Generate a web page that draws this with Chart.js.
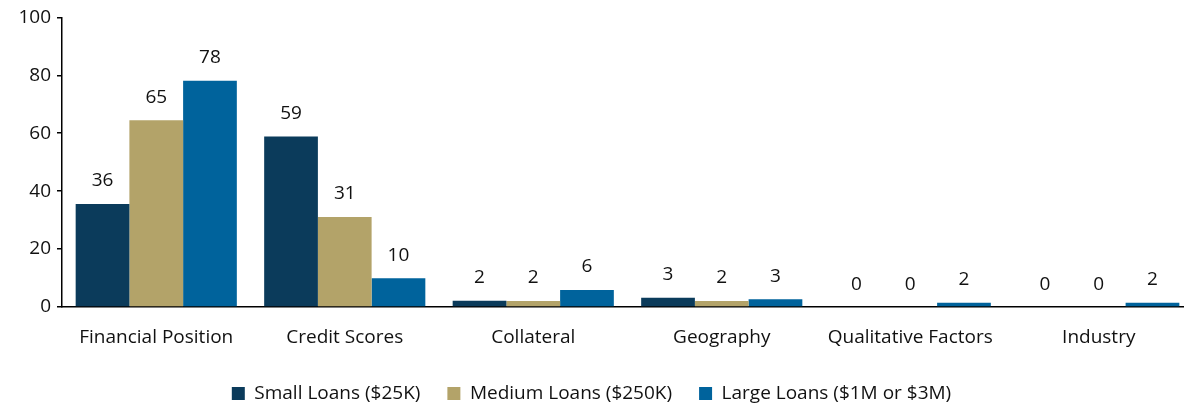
<!DOCTYPE html>
<html>
<head>
<meta charset="utf-8">
<script src="https://cdn.jsdelivr.net/npm/chart.js@4/dist/chart.umd.min.js"></script>
<style>
  html, body { margin: 0; padding: 0; background: #fff; overflow: hidden; }
  #wrap { position: relative; width: 1193px; height: 406px; }
</style>
</head>
<body>
<div id="wrap"><canvas id="c"></canvas></div>
<script>
const categories = ["Financial Position", "Credit Scores", "Collateral", "Geography", "Qualitative Factors", "Industry"];
const seriesNames = ["Small Loans ($25K)", "Medium Loans ($250K)", "Large Loans ($1M or $3M)"];
const smallLoans = [35.6, 58.9, 2.2, 3.2, 0, 0];
const mediumLoans = [64.5, 31.1, 2.1, 2.1, 0, 0];
const largeLoans = [78.1, 9.9, 5.9, 2.7, 1.5, 1.5];
const yTicks = [0, 20, 40, 60, 80, 100];
const colors = ["#0B3B5B", "#B3A369", "#00639C"];

const FONT = "'Open Sans', Lato, sans-serif";
const FSIZE = 19;

const dataLabels = {
  id: 'dataLabels',
  afterDatasetsDraw(chart) {
    const ctx = chart.ctx;
    ctx.save();
    ctx.font = FSIZE + "px " + FONT;
    ctx.fillStyle = "#111";
    ctx.textAlign = "center";
    ctx.textBaseline = "alphabetic";
    chart.data.datasets.forEach((ds, i) => {
      const meta = chart.getDatasetMeta(i);
      meta.data.forEach((bar, j) => {
        ctx.fillText(String(Math.round(ds.data[j])), bar.x, bar.y - 17.5);
      });
    });
    ctx.restore();
  }
};

const legendTweak = {
  id: 'legendTweak',
  beforeLayout(chart) {
    const lg = chart.legend;
    if (lg && !lg._patched) {
      const f = lg.fit.bind(lg);
      lg.fit = function () { f(); this.height = 50; };
      lg._patched = true;
    }
  },
  afterLayout(chart) {
    const lg = chart.legend;
    if (lg) { lg.left -= 5; lg.right -= 5; lg.top += 1; lg.bottom += 1; }
  }
};

new Chart(document.getElementById('c'), {
  type: 'bar',
  data: {
    labels: categories,
    datasets: [
      { label: seriesNames[0], data: smallLoans, backgroundColor: colors[0] },
      { label: seriesNames[1], data: mediumLoans, backgroundColor: colors[1] },
      { label: seriesNames[2], data: largeLoans, backgroundColor: colors[2] }
    ]
  },
  plugins: [dataLabels, legendTweak],
  options: {
    responsive: true,
    maintainAspectRatio: false,
    animation: false,
    layout: { padding: { top: 15, right: 0, bottom: 0, left: 0 } },
    datasets: { bar: { categoryPercentage: 0.855, barPercentage: 1.0, borderWidth: 0 } },
    scales: {
      x: {
        grid: { display: false },
        border: { display: true, color: '#000', width: 1.5 },
        afterFit(scale) { scale.height = 49; },
        ticks: { color: '#111', font: { family: FONT, size: FSIZE }, padding: 11, maxRotation: 0, autoSkip: false }
      },
      y: {
        min: 0, max: 100,
        afterBuildTicks(scale) { scale.ticks = yTicks.map(v => ({ value: v })); },
        afterFit(scale) { scale.width = 62; },
        grid: { display: true, drawOnChartArea: false, drawTicks: true, tickLength: 5, color: '#000', lineWidth: 1.5 },
        border: { display: true, color: '#000', width: 1.5 },
        ticks: { color: '#111', font: { family: FONT, size: FSIZE }, padding: 6 }
      }
    },
    plugins: {
      tooltip: { enabled: false },
      legend: {
        position: 'bottom',
        labels: {
          color: '#111',
          font: { family: FONT, size: FSIZE },
          boxWidth: 13, boxHeight: 13,
          padding: 27
        }
      }
    }
  }
});
</script>
</body>
</html>
